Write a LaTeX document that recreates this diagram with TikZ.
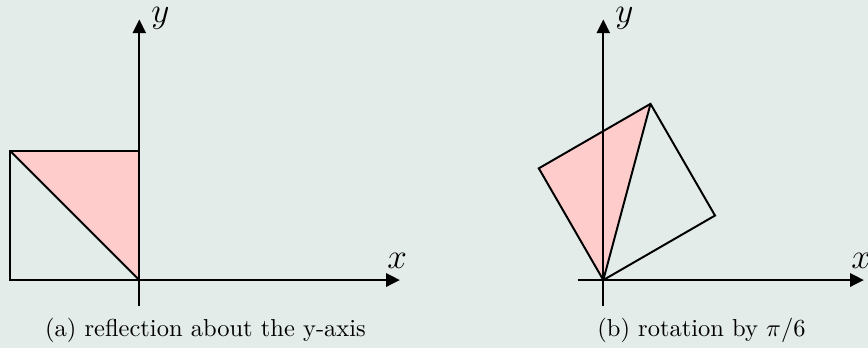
\documentclass[tikz,border=0pt]{standalone}
\usetikzlibrary{arrows.meta}
\definecolor{bgc}{HTML}{E3ECE8}
\definecolor{pinkc}{HTML}{FFCCCC}
\begin{document}
\begin{tikzpicture}[x=52.65pt,y=52.65pt,line width=0.8pt,
  axis/.style={-{Triangle[length=5.6pt,width=5.4pt]}},
  lab/.style={font=\Large},
  ylab/.style={font=\Large,inner sep=0pt,anchor=west},
  captxt/.style={font=\normalsize}]
\fill[bgc] (-1.080,-0.527) rectangle (5.649,2.171);
\useasboundingbox (-1.080,-0.527) rectangle (5.649,2.171);
% left panel
\begin{scope}
\coordinate (O1) at (0,0);
\coordinate (A1) at (-1,1);
\coordinate (B1) at (0,1);
\coordinate (C1) at (-1,0);
\fill[pinkc] (O1) -- (A1) -- (B1) -- cycle;
\draw (C1) -- (A1) -- (B1) -- (O1) -- cycle;
\draw (A1) -- (O1);
\coordinate (xs1) at (-0.2,0);
\coordinate (xe1) at (2.02,0);
\coordinate (ys1) at (0,-0.2);
\coordinate (ye1) at (0,2.02);
\draw[axis] (xs1) -- (xe1);
\draw[axis] (ys1) -- (ye1);
\node[lab,above] (xl1) at (2,0.02) {$x$};
\node[ylab] (yl1) at (0.085,2.03) {$y$};
\node[captxt] (cap1) at (0.513,-0.388) {(a) reflection about the y-axis};
\end{scope}
% right panel
\begin{scope}[shift={(3.597,0)}]
\coordinate (O2) at (0,0);
\coordinate (P2) at (0.866,0.5);
\coordinate (Q2) at (0.366,1.366);
\coordinate (R2) at (-0.5,0.866);
\fill[pinkc] (O2) -- (R2) -- (Q2) -- cycle;
\draw (O2) -- (P2) -- (Q2) -- (R2) -- cycle;
\draw (O2) -- (Q2);
\coordinate (xs2) at (-0.2,0);
\coordinate (xe2) at (2.02,0);
\coordinate (ys2) at (0,-0.2);
\coordinate (ye2) at (0,2.02);
\draw[axis] (xs2) -- (xe2);
\draw[axis] (ys2) -- (ye2);
\node[lab,above] (xl2) at (2,0.02) {$x$};
\node[ylab] (yl2) at (0.085,2.03) {$y$};
\node[captxt] (cap2) at (0.761,-0.388) {(b) rotation by $\pi/6$};
\end{scope}
\end{tikzpicture}
\end{document}
